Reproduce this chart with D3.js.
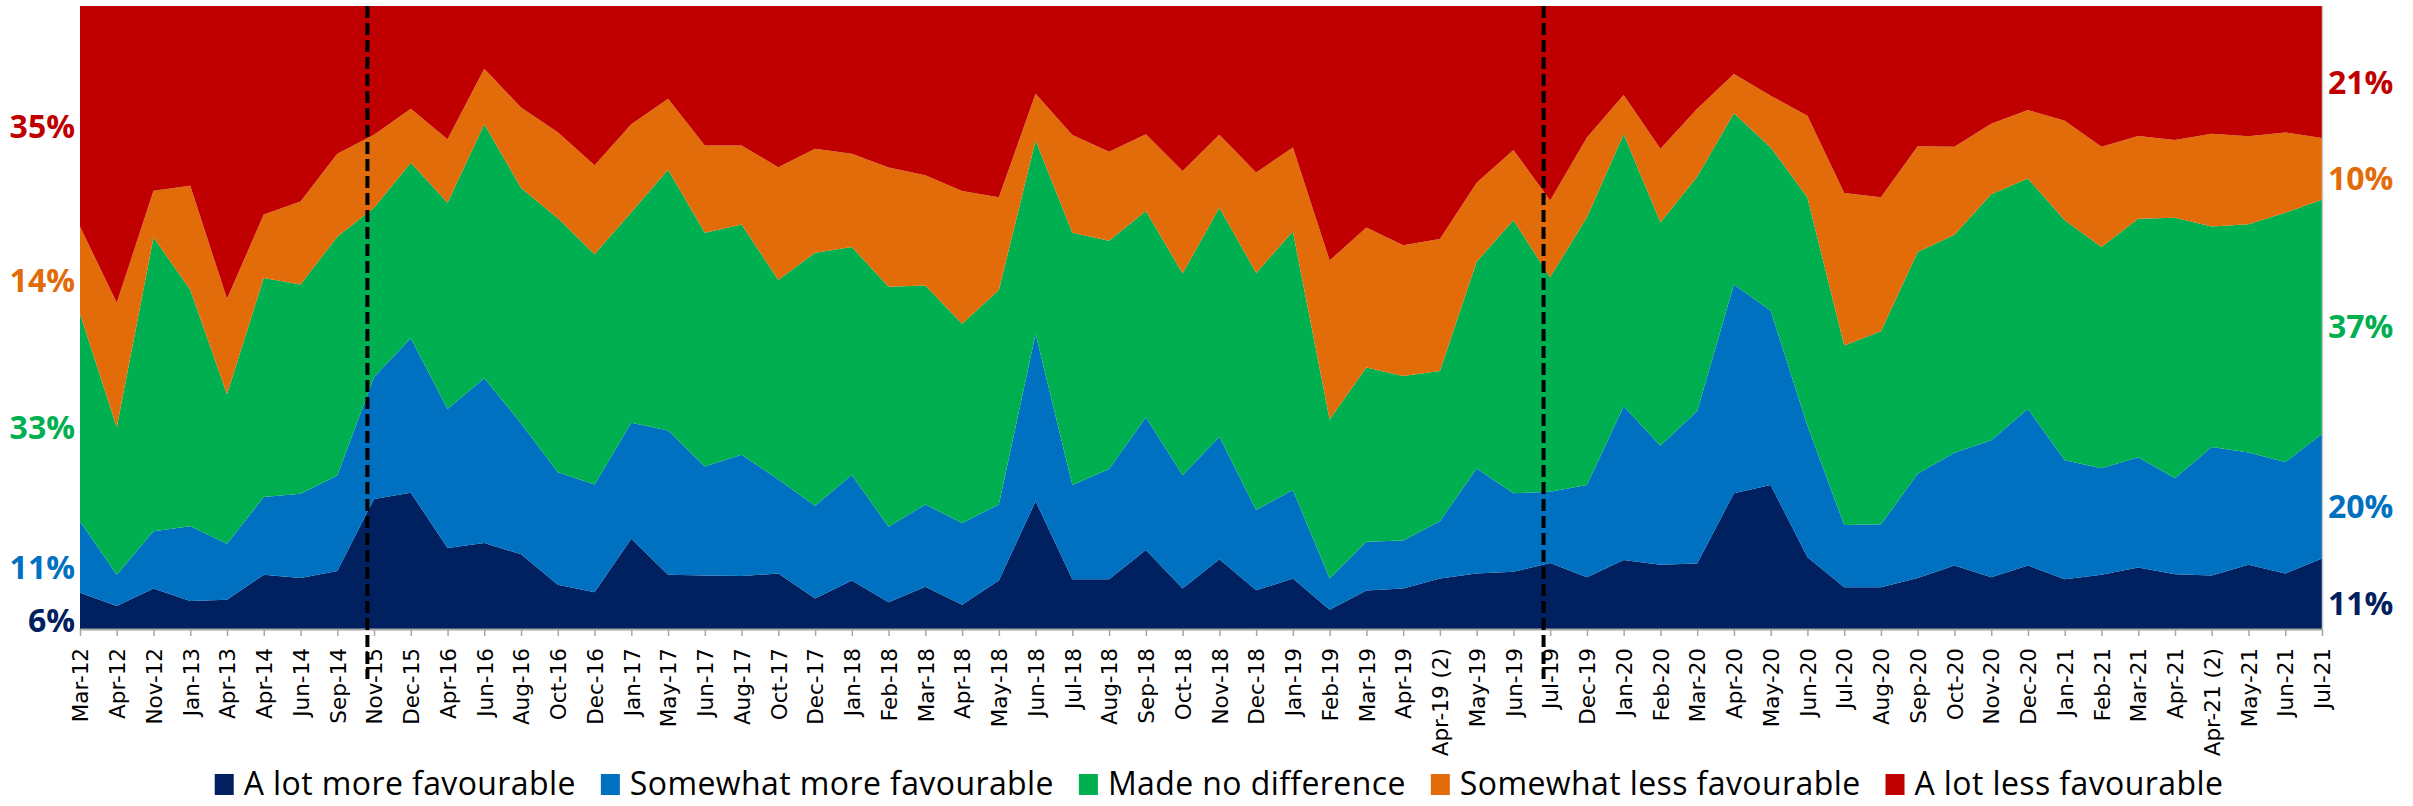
<!DOCTYPE html>
<html lang="en">
<head>
<meta charset="UTF-8">
<title>How favourable - survey trend</title>
<script src="https://cdnjs.cloudflare.com/ajax/libs/d3/7.8.5/d3.min.js"></script>
<style>
    body { margin: 0; background: #fff; }
    svg { display: block; }
</style>
</head>
<body>
<svg width="2413" height="806"></svg>
<script>
const categories = ["Mar-12", "Apr-12", "Nov-12", "Jan-13", "Apr-13", "Apr-14", "Jun-14", "Sep-14", "Nov-15", "Dec-15",
    "Apr-16", "Jun-16", "Aug-16", "Oct-16", "Dec-16", "Jan-17", "May-17", "Jun-17", "Aug-17", "Oct-17",
    "Dec-17", "Jan-18", "Feb-18", "Mar-18", "Apr-18", "May-18", "Jun-18", "Jul-18", "Aug-18", "Sep-18",
    "Oct-18", "Nov-18", "Dec-18", "Jan-19", "Feb-19", "Mar-19", "Apr-19", "Apr-19 (2)", "May-19", "Jun-19",
    "Jul-19", "Dec-19", "Jan-20", "Feb-20", "Mar-20", "Apr-20", "May-20", "Jun-20", "Jul-20", "Aug-20",
    "Sep-20", "Oct-20", "Nov-20", "Dec-20", "Jan-21", "Feb-21", "Mar-21", "Apr-21", "Apr-21 (2)", "May-21",
    "Jun-21", "Jul-21"]

const aLotMore = [5.8, 3.7, 6.5, 4.5, 4.7, 8.7, 8.2, 9.3, 20.9, 21.9,
    13.0, 13.8, 12.0, 7.1, 5.9, 14.5, 8.7, 8.6, 8.5, 8.9,
    4.9, 7.8, 4.3, 6.8, 3.9, 7.8, 20.5, 8.0, 8.0, 12.7,
    6.5, 11.2, 6.2, 8.1, 3.1, 6.2, 6.5, 8.1, 8.9, 9.2,
    10.6, 8.3, 11.1, 10.3, 10.5, 21.8, 23.1, 11.5, 6.7, 6.7,
    8.2, 10.2, 8.3, 10.2, 8.0, 8.7, 9.9, 8.8, 8.6, 10.3,
    8.9, 11.3]
const somewhatMore = [11.5, 5.0, 9.2, 12.0, 9.0, 12.5, 13.5, 15.3, 19.6, 24.8,
    22.3, 26.5, 21.0, 18.1, 17.3, 18.6, 23.2, 17.5, 19.5, 15.1,
    14.9, 16.9, 12.1, 13.2, 13.1, 12.2, 26.9, 15.1, 17.7, 21.3,
    18.2, 19.7, 12.9, 14.2, 5.0, 7.8, 7.7, 9.2, 16.9, 12.6,
    11.4, 14.8, 24.7, 19.1, 24.5, 33.5, 28.0, 21.1, 10.0, 10.1,
    16.7, 18.1, 22.0, 25.1, 19.1, 17.1, 17.7, 15.4, 20.6, 18.0,
    17.9, 20.0]
const noDifference = [33.3, 23.7, 47.2, 38.0, 24.0, 35.2, 33.6, 38.3, 27.2, 28.2,
    33.1, 40.8, 37.8, 40.8, 37.0, 33.8, 41.9, 37.5, 37.0, 32.0,
    40.6, 36.6, 38.5, 35.2, 32.0, 34.4, 31.0, 40.5, 36.6, 33.1,
    32.4, 36.8, 38.0, 41.5, 25.5, 28.0, 26.4, 24.1, 33.2, 43.8,
    34.4, 43.0, 43.7, 35.8, 37.6, 27.5, 26.2, 36.6, 28.8, 31.0,
    35.6, 35.0, 39.5, 37.0, 38.5, 35.5, 38.3, 41.8, 35.4, 36.6,
    40.0, 37.6]
const somewhatLess = [14.0, 20.0, 7.5, 16.7, 15.3, 10.2, 13.3, 13.3, 11.7, 8.7,
    10.2, 8.9, 12.9, 13.8, 14.3, 14.1, 11.4, 14.0, 12.7, 18.1,
    16.7, 15.0, 19.1, 17.7, 21.3, 14.9, 7.5, 15.7, 14.3, 12.3,
    16.5, 11.7, 16.1, 13.5, 25.5, 22.5, 21.0, 21.2, 12.7, 11.3,
    12.3, 12.8, 6.3, 11.8, 10.9, 6.3, 8.3, 13.1, 24.5, 21.5,
    17.0, 14.1, 11.3, 11.0, 16.0, 16.1, 13.3, 12.5, 14.9, 14.1,
    12.9, 9.9]
const aLotLess = [35.4, 47.7, 29.7, 28.9, 47.0, 33.5, 31.4, 23.7, 20.7, 16.5,
    21.4, 10.1, 16.3, 20.3, 25.6, 19.0, 14.9, 22.4, 22.4, 25.9,
    22.9, 23.7, 25.9, 27.2, 29.7, 30.7, 14.1, 20.7, 23.4, 20.6,
    26.5, 20.7, 26.7, 22.7, 40.8, 35.6, 38.4, 37.4, 28.4, 23.1,
    31.2, 21.1, 14.3, 22.9, 16.5, 10.9, 14.4, 17.6, 30.0, 30.7,
    22.5, 22.6, 18.9, 16.7, 18.4, 22.6, 20.9, 21.5, 20.5, 20.9,
    20.3, 21.2]

const seriesNames = ["A lot more favourable", "Somewhat more favourable", "Made no difference",
    "Somewhat less favourable", "A lot less favourable"]
const seriesColors = ["#002060", "#0070C0", "#00B050", "#E26B0A", "#C00000"]

// labels shown at the start and end of the chart
const startLabels = ["6%", "11%", "33%", "14%", "35%"]
const endLabels = ["11%", "20%", "37%", "10%", "21%"]

// dashed separators sit just before these months
const dividers = ["Nov-15", "Jul-19"]

const keys = ["a", "b", "c", "d", "e"]
const rows = categories.map((cat, i) => ({
    cat: cat,
    a: aLotMore[i],
    b: somewhatMore[i],
    c: noDifference[i],
    d: somewhatLess[i],
    e: aLotLess[i]
}))

const svg = d3.select("svg")

const x = d3.scalePoint().domain(categories).range([80, 2322])
const y = d3.scaleLinear().domain([0, 1]).range([629, 6])

const stacked = d3.stack().keys(keys).offset(d3.stackOffsetExpand)(rows)

const area = d3.area()
    .x(d => x(d.data.cat))
    .y0(d => y(d[0]))
    .y1(d => y(d[1]))

svg.append("g")
    .selectAll("path")
    .data(stacked)
    .enter()
    .append("path")
    .attr("d", area)
    .style("fill", (d, i) => seriesColors[i])

// thin border on the right of the plot
svg.append("line")
    .attr("x1", x.range()[1] + 0.5).attr("x2", x.range()[1] + 0.5)
    .attr("y1", y(1)).attr("y2", y(0))
    .style("stroke", "#c8c8c8")
    .style("stroke-width", "1.5px")

// x axis
const xAxis = svg.append("g")
    .attr("transform", `translate(0, ${y(0)})`)
    .call(d3.axisBottom(x).tickSize(7).tickSizeOuter(0))

xAxis.select(".domain").style("stroke", "#a6a6a6").style("stroke-width", "2px")
xAxis.selectAll(".tick line").style("stroke", "#a6a6a6").style("stroke-width", "1.5px")
xAxis.selectAll(".tick text")
    .attr("transform", "rotate(-90)")
    .attr("x", -19)
    .attr("y", 0)
    .attr("dy", "0.36em")
    .style("text-anchor", "end")
    .style("font-family", "'DejaVu Sans', sans-serif")
    .style("font-size", "21.5px")
    .style("fill", "#000")

// dashed separators
svg.append("g")
    .selectAll("line")
    .data(dividers)
    .enter()
    .append("line")
    .attr("x1", d => x(d) - x.step() * 0.18)
    .attr("x2", d => x(d) - x.step() * 0.18)
    .attr("y1", y(1))
    .attr("y2", y(0) + 50)
    .style("stroke", "#000")
    .style("stroke-width", "4px")
    .style("stroke-dasharray", "12,5")

// percentage labels on both sides, roughly centred in each band
const first = 0
const last = categories.length - 1
const nudge = 10

svg.append("g")
    .selectAll("text")
    .data(stacked)
    .enter()
    .append("text")
    .attr("x", x.range()[0] - 5)
    .attr("y", d => y((d[first][0] + d[first][1]) / 2) + nudge)
    .attr("dy", "0.36em")
    .style("text-anchor", "end")
    .style("font-family", "'Open Sans', sans-serif")
    .style("font-weight", "bold")
    .style("font-size", "32px")
    .style("fill", (d, i) => seriesColors[i])
    .text((d, i) => startLabels[i])

svg.append("g")
    .selectAll("text")
    .data(stacked)
    .enter()
    .append("text")
    .attr("x", x.range()[1] + 6)
    .attr("y", d => y((d[last][0] + d[last][1]) / 2) + nudge)
    .attr("dy", "0.36em")
    .style("text-anchor", "start")
    .style("font-family", "'Open Sans', sans-serif")
    .style("font-weight", "bold")
    .style("font-size", "32px")
    .style("fill", (d, i) => seriesColors[i])
    .text((d, i) => endLabels[i])

// legend
const legendY = 784
const legend = svg.append("g")

const items = legend.selectAll("g")
    .data(seriesNames)
    .enter()
    .append("g")

items.append("rect")
    .attr("width", 19)
    .attr("height", 21)
    .attr("y", legendY - 10)
    .style("fill", (d, i) => seriesColors[i])

items.append("text")
    .attr("x", 29)
    .attr("y", legendY)
    .attr("dy", "0.35em")
    .style("font-family", "'Open Sans', sans-serif")
    .style("font-size", "32px")
    .style("letter-spacing", "0.4px")
    .style("fill", "#000")
    .text(d => d)

let widths = []
items.each(function () {
    widths.push(29 + d3.select(this).select("text").node().getComputedTextLength())
})
const gap = 25
const total = d3.sum(widths) + gap * (widths.length - 1)
let cursor = 1219 - total / 2
items.attr("transform", (d, i) => {
    const tx = cursor
    cursor += widths[i] + gap
    return `translate(${tx}, 0)`
})
</script>
</body>
</html>
